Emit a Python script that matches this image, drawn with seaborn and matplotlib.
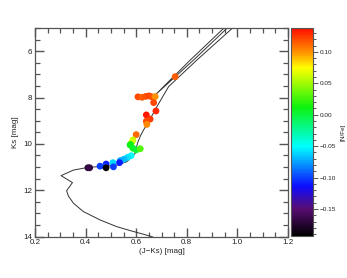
import numpy as np
import pandas as pd
import matplotlib
matplotlib.use("Agg")
import matplotlib.pyplot as plt
import seaborn as sns
from matplotlib.colors import LinearSegmentedColormap, Normalize
from matplotlib.cm import ScalarMappable
from matplotlib.ticker import MultipleLocator, FixedLocator

# ---- data ----
star_color = [0.607, 0.623, 0.638, 0.651, 0.662, 0.675, 0.754, 0.669, 0.678, 0.640,
              0.655, 0.640, 0.642, 0.600, 0.587, 0.583, 0.578, 0.576, 0.587, 0.600,
              0.616, 0.580, 0.566, 0.552, 0.537, 0.508, 0.534, 0.481, 0.457, 0.477,
              0.510, 0.481, 0.409, 0.416]
star_ks = [7.97, 7.99, 7.95, 7.93, 7.97, 7.96, 7.10, 8.22, 8.58, 8.75,
           8.93, 9.02, 9.16, 9.60, 9.83, 9.92, 10.02, 10.05, 10.19, 10.26,
           10.21, 10.51, 10.58, 10.66, 10.72, 10.81, 10.81, 10.87, 10.96, 10.98,
           10.99, 11.03, 11.03, 11.03]
star_nfe = [0.120, 0.115, 0.118, 0.122, 0.118, 0.100, 0.115, 0.120, 0.130, 0.135,
            0.125, 0.120, 0.102, 0.112, 0.060, 0.065, 0.020, 0.010, 0.005, 0.000,
            0.030, -0.048, -0.058, -0.068, -0.072, -0.060, -0.110, -0.110, -0.100, -0.100,
            -0.100, -0.192, -0.172, -0.168]

iso_color = [0.680, 0.662, 0.576, 0.523, 0.457, 0.391, 0.352, 0.332, 0.325, 0.348,
             0.303, 0.352, 0.411, 0.457, 0.523, 0.563, 0.583, 0.596, 0.605, 0.617,
             0.629, 0.653, 0.682, 0.728, 0.840, 0.981, 1.000]
iso_ks = [14.10, 14.00, 13.74, 13.57, 13.28, 12.92, 12.56, 12.25, 12.02, 11.67,
          11.37, 11.13, 11.01, 10.98, 10.92, 10.77, 10.57, 10.40, 9.97, 9.65,
          9.40, 8.97, 8.39, 7.53, 6.38, 5.00, 4.80]

agb_color = [0.965, 0.947, 0.814, 0.675, 0.827, 0.960, 0.978]
agb_ks = [4.80, 5.00, 6.38, 7.89, 6.38, 5.00, 4.80]

x_ticks = [0.2, 0.4, 0.6, 0.8, 1.0, 1.2]
y_ticks = [6, 8, 10, 12, 14]
cbar_ticks = [-0.15, -0.10, -0.05, 0.00, 0.05, 0.10]

# ---- colormap (IDL-like rainbow) ----
cmap = LinearSegmentedColormap.from_list("idlrainbow", [
    (0.00, (0.0, 0.0, 0.0)),
    (0.13, (0.35, 0.05, 0.45)),
    (0.24, (0.05, 0.05, 1.0)),
    (0.43, (0.0, 1.0, 1.0)),
    (0.62, (0.05, 0.95, 0.05)),
    (0.81, (1.0, 1.0, 0.0)),
    (0.88, (1.0, 0.6, 0.0)),
    (1.00, (1.0, 0.05, 0.0)),
])
vmin, vmax = -0.193, 0.138
norm = Normalize(vmin=vmin, vmax=vmax)

gray = "#555555"
plt.rcParams["font.family"] = ["Liberation Sans", "DejaVu Sans"]

fig = plt.figure(figsize=(3.47, 2.78), dpi=100)
ax = fig.add_axes([35 / 347, (278 - 236.6) / 278, 253 / 347, 208.6 / 278])
cax = fig.add_axes([291 / 347, (278 - 236) / 278, 22 / 347, 208 / 278])

iso = pd.DataFrame({"x": iso_color, "y": iso_ks})
agb = pd.DataFrame({"x": agb_color, "y": agb_ks})
sns.lineplot(data=iso, x="x", y="y", sort=False, estimator=None, color="#333333",
             lw=0.7, ax=ax, zorder=2)
sns.lineplot(data=agb, x="x", y="y", sort=False, estimator=None, color="#333333",
             lw=0.7, ax=ax, zorder=2)

stars = pd.DataFrame({"x": star_color, "y": star_ks, "nfe": star_nfe})
sns.scatterplot(data=stars, x="x", y="y", hue="nfe", palette=cmap, hue_norm=norm,
                s=24, linewidth=0, legend=False, ax=ax, zorder=3)

ax.set_xlim(0.2, 1.2)
ax.set_ylim(14, 5)
ax.xaxis.set_major_locator(FixedLocator(x_ticks))
ax.yaxis.set_major_locator(FixedLocator(y_ticks))
ax.set_xticklabels([f"{v:.1f}" for v in x_ticks])
ax.set_yticklabels([str(v) for v in y_ticks])
ax.minorticks_on()
ax.xaxis.set_minor_locator(MultipleLocator(0.05))
ax.yaxis.set_minor_locator(MultipleLocator(0.5))
ax.tick_params(axis="both", which="both", direction="in", bottom=True, left=True,
               top=True, right=True, colors="#555555", labelcolor="#222222",
               labelsize=5.8, pad=2)
ax.tick_params(axis="both", which="major", length=6.5, width=1.0)
ax.tick_params(axis="both", which="minor", length=3.4, width=0.9)
for sp in ax.spines.values():
    sp.set_visible(True)
    sp.set_color(gray)
    sp.set_linewidth(0.9)
ax.set_xlabel("(J\u2212Ks) [mag]", fontsize=5.8, labelpad=1, color="#222222")
ax.set_ylabel("Ks [mag]", fontsize=5.8, labelpad=3, color="#222222")

sm = ScalarMappable(norm=norm, cmap=cmap)
cb = fig.colorbar(sm, cax=cax)
cb.set_ticks(cbar_ticks)
cb.set_ticklabels(["\u22120.15", "\u22120.10", "\u22120.05", "0.00", "0.05", "0.10"])
cax.yaxis.set_minor_locator(MultipleLocator(0.01))
cax.tick_params(which="both", direction="out", left=False, right=True,
                colors=gray, labelcolor="#222222", width=0.7,
                labelsize=4.6, pad=1.5)
cax.tick_params(which="major", length=3.5)
cax.tick_params(which="minor", length=2.0)
cb.outline.set_edgecolor(gray)
cb.outline.set_linewidth(0.8)
cb.set_label("[N/Fe]", fontsize=4.6, labelpad=3, color="#222222")

fig.savefig("out.png", dpi=100)
